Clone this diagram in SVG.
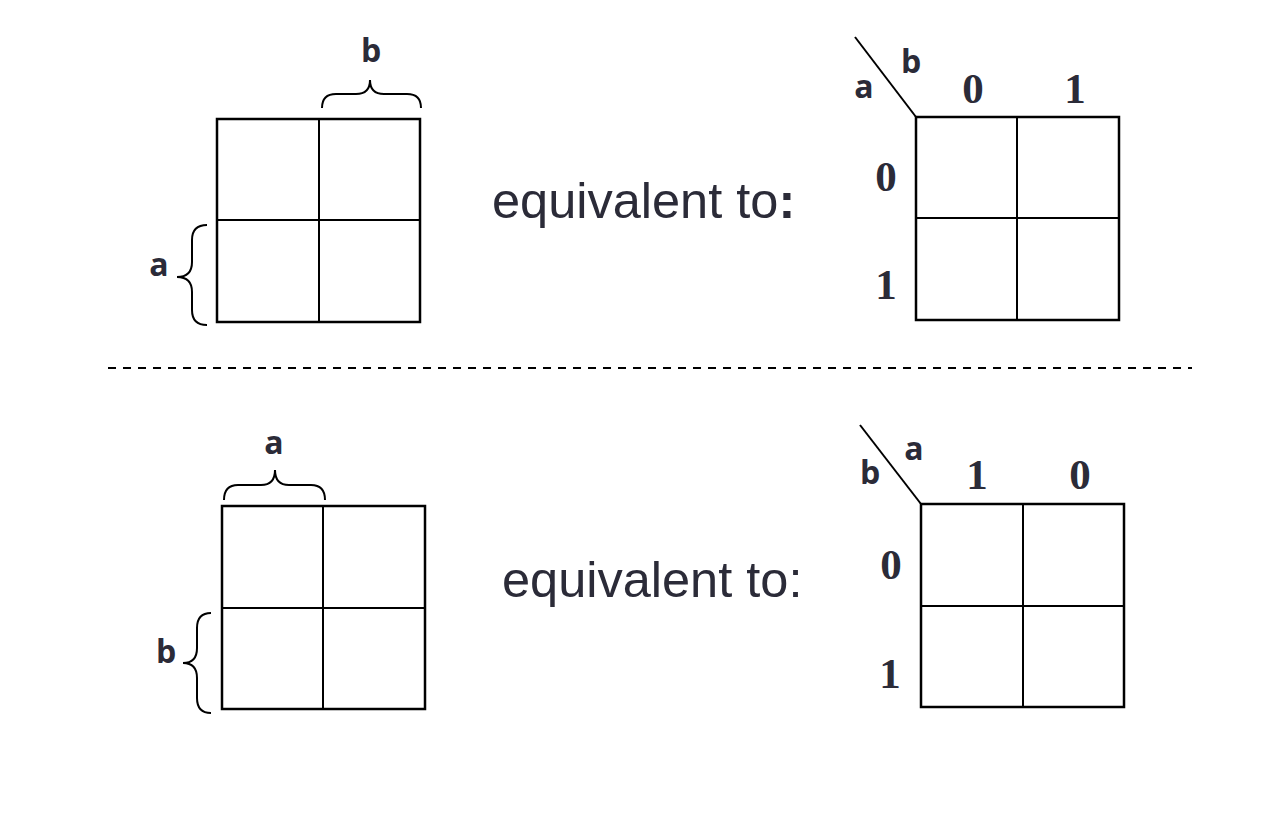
<svg xmlns="http://www.w3.org/2000/svg" width="1276" height="818" viewBox="0 0 1276 818">
<style>
.cell{fill:none;stroke:#000;stroke-width:2.5}
.div{stroke:#000;stroke-width:2}
.brace{fill:none;stroke:#000;stroke-width:2}
.var{font-family:"Open Sans","Noto Sans",sans-serif;font-weight:bold;font-size:32px;fill:#2b2b38;text-anchor:middle}
.num{font-family:"Liberation Serif",serif;font-weight:bold;font-size:43px;fill:#2b2b38;text-anchor:middle}
.eq{font-family:"Liberation Sans",Arial,sans-serif;font-size:50.5px;fill:#2b2b38}
</style>
<rect width="1276" height="818" fill="#fff"/>
<g id="connectors">
<line x1="108" y1="368" x2="1192" y2="368" stroke="#000" stroke-width="2" stroke-dasharray="8 7"/>
</g>
<g id="map1">
<rect class="cell" x="217" y="119" width="203" height="203"/>
<line class="div" x1="319" y1="119" x2="319" y2="322"/>
<line class="div" x1="217" y1="220" x2="420" y2="220"/>
<path class="brace" d="M322,108 Q322,94 336,94 L356,94 Q370,94 370,80 Q370,94 384,94 L407,94 Q421,94 421,108"/>
<path class="brace" d="M207,225 Q192,225 192,240 L192,262 Q192,277 177,277 Q192,277 192,292 L192,310 Q192,325 207,325"/>
<text class="var" x="371" y="62">b</text>
<text class="var" x="159" y="276">a</text>
</g>
<g id="eq1">
<text class="eq" x="492" y="218">equivalent to<tspan font-weight="bold">:</tspan></text>
</g>
<g id="map2">
<rect class="cell" x="916" y="117" width="203" height="203"/>
<line class="div" x1="1017" y1="117" x2="1017" y2="320"/>
<line class="div" x1="916" y1="218" x2="1119" y2="218"/>
<line class="div" x1="855" y1="37" x2="916" y2="117"/>
<text class="var" x="911" y="73">b</text>
<text class="var" x="864" y="98">a</text>
<text class="num" x="973" y="103">0</text>
<text class="num" x="1075" y="103">1</text>
<text class="num" x="886" y="191">0</text>
<text class="num" x="886" y="299">1</text>
</g>
<g id="map3">
<rect class="cell" x="222" y="506" width="203" height="203"/>
<line class="div" x1="323" y1="506" x2="323" y2="709"/>
<line class="div" x1="222" y1="608" x2="425" y2="608"/>
<path class="brace" d="M224,500 Q224,485 238,485 L261,485 Q275,485 275,470 Q275,485 289,485 L311,485 Q325,485 325,500"/>
<path class="brace" d="M211,613 Q197,613 197,628 L197,648 Q197,663 183,663 Q197,663 197,678 L197,698 Q197,713 211,713"/>
<text class="var" x="274" y="454">a</text>
<text class="var" x="166" y="663">b</text>
</g>
<g id="eq2">
<text class="eq" x="502" y="597">equivalent to:</text>
</g>
<g id="map4">
<rect class="cell" x="921" y="504" width="203" height="203"/>
<line class="div" x1="1023" y1="504" x2="1023" y2="707"/>
<line class="div" x1="921" y1="606" x2="1124" y2="606"/>
<line class="div" x1="860" y1="425" x2="921" y2="504"/>
<text class="var" x="914" y="460">a</text>
<text class="var" x="870" y="484">b</text>
<text class="num" x="977" y="489">1</text>
<text class="num" x="1080" y="489">0</text>
<text class="num" x="891" y="579">0</text>
<text class="num" x="890" y="688">1</text>
</g>
</svg>
